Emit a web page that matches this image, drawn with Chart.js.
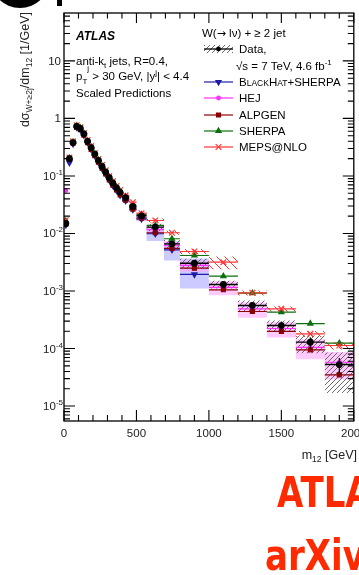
<!DOCTYPE html>
<html><head><meta charset="utf-8">
<script src="https://cdn.jsdelivr.net/npm/chart.js@4.4.1/dist/chart.umd.min.js"></script>
<style>html,body{margin:0;padding:0;background:#fff;}canvas{display:block;}</style>
</head><body>
<canvas id="c" width="359" height="575"></canvas>
<script>
// ---- data ----
const binEdges = [0,25,50,75,100,125,150,175,200,225,250,275,300,325,350,375,400,450,500,570,690,800,1000,1200,1400,1600,1800,2000];
const dataValues = [0.0149,0.20,0.38,0.73,0.67,0.54,0.40,0.31,0.24,0.186,0.146,0.117,0.093,0.075,0.062,0.052,0.042,0.0295,0.0203,0.0129,0.0066,0.00304,0.00130,0.00056,0.000251,0.000129,0.0000527];
const dataStat   = [0.03,0.02,0.02,0.02,0.02,0.02,0.02,0.02,0.02,0.02,0.02,0.02,0.03,0.03,0.03,0.03,0.03,0.04,0.05,0.06,0.08,0.10,0.12,0.15,0.18,0.22,0.30];
const dataSystUp = [0.10,0.08,0.08,0.08,0.08,0.08,0.08,0.08,0.08,0.08,0.08,0.08,0.08,0.08,0.08,0.08,0.08,0.09,0.10,0.14,0.17,0.20,0.16,0.22,0.22,0.31,0.62];
const dataSystDn = [0.10,0.08,0.08,0.08,0.08,0.08,0.08,0.08,0.08,0.08,0.08,0.08,0.08,0.08,0.08,0.08,0.08,0.09,0.10,0.14,0.16,0.19,0.15,0.20,0.20,0.36,0.68];
const bhValues   = [0.0140,0.17,0.36,0.70,0.64,0.51,0.38,0.29,0.225,0.172,0.134,0.107,0.084,0.068,0.056,0.046,0.037,0.026,0.0178,0.0099,0.0052,0.00194];
const bhUncUp    = [0.06,0.06,0.06,0.06,0.06,0.06,0.06,0.06,0.06,0.06,0.06,0.06,0.06,0.06,0.06,0.06,0.06,0.06,0.08,0.30,0.40,0.90];
const bhUncDn    = [0.06,0.06,0.06,0.06,0.06,0.06,0.06,0.06,0.06,0.06,0.06,0.06,0.06,0.06,0.06,0.06,0.06,0.06,0.08,0.25,0.35,0.43];
const hejValues  = [0.056,0.19,0.38,0.72,0.66,0.53,0.39,0.30,0.235,0.180,0.142,0.113,0.090,0.073,0.060,0.050,0.040,0.028,0.0193,0.0117,0.0062,0.00278,0.00116,0.00049,0.000223,0.000105,0.0000578];
const hejUnc     = [0.10,0.10,0.10,0.10,0.10,0.10,0.10,0.10,0.10,0.10,0.10,0.10,0.10,0.10,0.10,0.10,0.10,0.12,0.13,0.15,0.18,0.22,0.27,0.30,0.30,0.38,0.50];
const alpgenValues = [0.0145,0.195,0.37,0.70,0.64,0.51,0.38,0.29,0.225,0.173,0.136,0.108,0.085,0.069,0.057,0.047,0.038,0.0265,0.0185,0.0103,0.0055,0.00249,0.00105,0.00044,0.000198,0.0000949,0.0000349];
const sherpaValues = [0.0165,0.205,0.39,0.75,0.69,0.55,0.41,0.32,0.245,0.19,0.150,0.120,0.096,0.078,0.064,0.054,0.044,0.031,0.0214,0.0138,0.0081,0.00414,0.00181,0.00092,0.00043,0.000272,0.000124];
const mepsValues = [0.0170,0.21,0.40,0.76,0.70,0.56,0.42,0.33,0.25,0.197,0.155,0.125,0.100,0.081,0.067,0.057,0.046,0.035,0.0225,0.0168,0.0103,0.00486,0.00317,0.00093,0.00049,0.000180,0.000113];
const mepsUnc    = [0.05,0.05,0.05,0.05,0.05,0.05,0.05,0.05,0.05,0.05,0.05,0.05,0.05,0.05,0.05,0.05,0.05,0.05,0.06,0.08,0.08,0.10,0.25,0.10,0.10,0.12,0.15];
const xTickLabels = [0,500,1000,1500,2000];
const yTickPowers = [-5,-4,-3,-2,-1,0,1];

// ---- styles ----
const FONT = '"Liberation Sans", "DejaVu Sans", Arial, Helvetica, sans-serif';
const C = {bh:'#1c1ca8', hej:'#ff30ff', alp:'#8b0000', sh:'#0b700b', meps:'#ff3535', data:'#000'};

function hatch(color, dir, s, lw){
  const c=document.createElement('canvas'); c.width=s; c.height=s;
  const g=c.getContext('2d'); g.strokeStyle=color; g.lineWidth=lw; g.beginPath();
  for(let k=-1;k<=1;k++){
    if(dir>0){ g.moveTo(k*s, s); g.lineTo(k*s+s, 0); }
    else { g.moveTo(k*s, 0); g.lineTo(k*s+s, s); }
  }
  g.stroke();
  return g.createPattern(c,'repeat');
}
const dataHatch = hatch('#6a6a6a', 1, 5, 1);
const mepsHatch = hatch('#ff3535', -1, 8, 1);

// ---- dataset builders ----
function stepPts(vals, frac, sign){
  const pts=[];
  vals.forEach((v,i)=>{ if(v==null) return; const y=v*(1+sign*frac[i]); pts.push({x:binEdges[i],y},{x:binEdges[i+1],y}); });
  return pts;
}
function band(vals, up, dn, fill, order){
  return [
    {data:stepPts(vals,dn,-1), borderWidth:0, pointRadius:0, fill:false, order},
    {data:stepPts(vals,up,1), borderWidth:0, pointRadius:0, fill:'-1', backgroundColor:fill, order}
  ];
}
function segs(vals, color, order, w){
  const pts=[];
  vals.forEach((v,i)=>{ if(v==null) return; pts.push({x:binEdges[i],y:v},{x:binEdges[i+1],y:v},{x:binEdges[i+1],y:null}); });
  return {data:pts, borderColor:color, borderWidth:w||1.2, pointRadius:0, fill:false, spanGaps:false, order};
}
function marks(vals, color, style, r, order, rot){
  const pts=[];
  vals.forEach((v,i)=>{ if(v==null) return; pts.push({x:(binEdges[i]+binEdges[i+1])/2, y:v}); });
  return {data:pts, showLine:false, pointStyle:style, pointRadius:r, pointRotation:rot||0,
    pointBackgroundColor:color, pointBorderColor:color, pointBorderWidth:1.2, order};
}
function errBars(vals, frac, order){
  const pts=[];
  vals.forEach((v,i)=>{ const x=(binEdges[i]+binEdges[i+1])/2; pts.push({x,y:v*(1-frac[i])},{x,y:v*(1+frac[i])},{x,y:null}); });
  return {data:pts, borderColor:'#000', borderWidth:1.2, pointRadius:0, fill:false, spanGaps:false, order};
}

const datasets = [
  ...band(bhValues, bhUncUp, bhUncDn, 'rgba(185,185,255,0.75)', 30),
  ...band(hejValues, hejUnc, hejUnc, 'rgba(255,160,255,0.55)', 29),
  ...band(mepsValues, mepsUnc, mepsUnc, mepsHatch, 28),
  ...band(dataValues, dataSystUp, dataSystDn, dataHatch, 27),
  segs(bhValues, C.bh, 20), segs(hejValues, C.hej, 19), segs(alpgenValues, C.alp, 18),
  segs(sherpaValues, C.sh, 17), segs(mepsValues, C.meps, 16), segs(dataValues, '#000', 15, 1.4),
  marks(bhValues, C.bh, 'triangle', 3, 12, 180),
  marks(hejValues, C.hej, 'circle', 1.8, 11),
  marks(sherpaValues, C.sh, 'triangle', 3, 10),
  marks(mepsValues, C.meps, 'crossRot', 4, 9),
  marks(alpgenValues, C.alp, 'rect', 2.8, 8),
  errBars(dataValues, dataStat, 2),
  marks(dataValues, '#000', 'circle', 2.8, 1)
];

// ---- decorations: frame, inward ticks, labels, legend, titles ----
function rich(ctx, parts, x, y, align){
  let w=0;
  const f=p=>(p.st||'')+' '+p.s+'px '+(p.f||FONT);
  parts.forEach(p=>{ ctx.font=f(p); p.w=ctx.measureText(p.t).width; w+=p.w; });
  let cx = align==='right' ? x-w : x;
  parts.forEach(p=>{ ctx.font=f(p); ctx.fillText(p.t, cx, y+(p.dy||0)); cx+=p.w; });
  return w;
}
const deco = {
  id:'deco',
  afterDraw(chart){
    const ctx=chart.ctx, ca=chart.chartArea, xs=chart.scales.x, ys=chart.scales.y;
    ctx.save();
    ctx.fillStyle='#000'; ctx.strokeStyle='#000';
    // cropped shapes at top-left
    ctx.beginPath(); ctx.arc(20,-22,30,0,Math.PI*2); ctx.fill();
    ctx.fillRect(57,0,5,6);
    // frame
    ctx.lineWidth=1.3;
    ctx.strokeRect(ca.left, ca.top, ca.right-ca.left, ca.bottom-ca.top);
    // x ticks
    ctx.lineWidth=1.1; ctx.beginPath();
    for(let m=0;m<=2000;m+=100){
      const px=xs.getPixelForValue(m), L=(m%500===0)?11:6;
      ctx.moveTo(px,ca.bottom); ctx.lineTo(px,ca.bottom-L);
      ctx.moveTo(px,ca.top); ctx.lineTo(px,ca.top+L*0.9);
    }
    // y ticks
    for(let e=-6;e<=1;e++){
      for(let k=1;k<=9;k++){
        const v=k*Math.pow(10,e);
        if(v<ys.min||v>ys.max) continue;
        const py=ys.getPixelForValue(v), L=(k===1)?11:6;
        ctx.moveTo(ca.left,py); ctx.lineTo(ca.left+L,py);
        ctx.moveTo(ca.right,py); ctx.lineTo(ca.right-L,py);
      }
    }
    ctx.stroke();
    // x labels
    ctx.fillStyle='#222'; ctx.textAlign='center'; ctx.textBaseline='alphabetic';
    ctx.font='11.5px '+FONT;
    xTickLabels.forEach(m=>{ ctx.fillText(String(m), xs.getPixelForValue(m), ca.bottom+16); });
    // y labels
    ctx.textAlign='left';
    yTickPowers.forEach(e=>{
      const py=ys.getPixelForValue(Math.pow(10,e))+4;
      if(e===0) rich(ctx,[{t:'1',s:11.5}],61,py,'right');
      else if(e===1) rich(ctx,[{t:'10',s:11.5}],61,py,'right');
      else rich(ctx,[{t:'10',s:11.5},{t:String(e),s:8,dy:-5}],63,py,'right');
    });
    // x title
    ctx.fillStyle='#222';
    rich(ctx,[{t:'m',s:12.5},{t:'12',s:8.5,dy:3},{t:' [GeV]',s:12.5}],357,459,'right');
    // y title (rotated)
    ctx.save(); ctx.translate(29,0); ctx.rotate(-Math.PI/2);
    rich(ctx,[{t:'dσ',s:12.5},{t:'W+≥2j',s:8.5,dy:3},{t:'/dm',s:12.5},{t:'12',s:8.5,dy:3},{t:' [1/GeV]',s:12.5}],-12,0,'right');
    ctx.restore();
    // left text block
    ctx.fillStyle='#000';
    rich(ctx,[{t:'ATLAS',s:12,st:'italic bold'}],76,40);
    rich(ctx,[{t:'anti-k',s:11.5},{t:'t',s:8,dy:3},{t:' jets, R=0.4,',s:11.5}],76,65);
    rich(ctx,[{t:'p',s:11.5},{t:'T',s:8,dy:4},{t:'j',s:8,dy:-9},{t:' > 30 GeV, |y',s:11.5},{t:'j',s:8,dy:-5},{t:'| < 4.4',s:11.5}],76,80);
    rich(ctx,[{t:'Scaled Predictions',s:11.5}],76,97);
    // legend
    const lx0=204, lx1=233, lxc=218.5, tx=239;
    rich(ctx,[{t:'W(',s:11.5},{t:'→',s:11,f:'"DejaVu Sans", sans-serif'},{t:' lν) + ≥ 2 jet',s:11.5}],202,37);
    // data entry
    ctx.fillStyle=dataHatch; ctx.fillRect(lx0,45,lx1-lx0,8);
    ctx.strokeStyle='#000'; ctx.lineWidth=1.3; ctx.beginPath(); ctx.moveTo(lx0,49); ctx.lineTo(lx1,49); ctx.stroke();
    ctx.fillStyle='#000'; ctx.beginPath(); ctx.arc(lxc,49,2.4,0,Math.PI*2); ctx.fill();
    rich(ctx,[{t:'Data,',s:11.5}],tx,53);
    rich(ctx,[{t:'√s = 7 TeV, 4.6 fb',s:11.5},{t:'-1',s:8,dy:-5}],236,70);
    const entries=[
      {y:82, c:C.bh, st:'triangle', r:3, rot:180, label:[{t:'B',s:11.5},{t:'LACK',s:8.5},{t:'H',s:11.5},{t:'AT',s:8.5},{t:'+SHERPA',s:11.5}]},
      {y:98, c:C.hej, st:'circle', r:1.8, label:[{t:'HEJ',s:11.5}]},
      {y:115, c:C.alp, st:'rect', r:2.8, label:[{t:'ALPGEN',s:11.5}]},
      {y:131, c:C.sh, st:'triangle', r:3, label:[{t:'SHERPA',s:11.5}]},
      {y:147, c:C.meps, st:'crossRot', r:4, label:[{t:'MEPS@NLO',s:11.5}]}
    ];
    entries.forEach(en=>{
      ctx.strokeStyle=en.c; ctx.fillStyle=en.c; ctx.lineWidth=1.2;
      ctx.beginPath(); ctx.moveTo(lx0,en.y); ctx.lineTo(lx1,en.y); ctx.stroke();
      Chart.helpers.drawPoint(ctx,{pointStyle:en.st,radius:en.r,rotation:en.rot||0,borderWidth:1.2},lxc,en.y);
      ctx.fillStyle='#000';
      rich(ctx,en.label,tx,en.y+4);
    });
    // red stamp text
    ctx.fillStyle='#ff2a00';
    ctx.save(); ctx.scale(0.88,1);
    ctx.font='bold 43px "Liberation Sans Narrow", "DejaVu Sans Condensed", sans-serif';
    ctx.fillText('ATLAS', 277/0.88, 507);
    ctx.fillText('arXiv:1711.03296', 265/0.88, 570);
    ctx.restore();
    ctx.restore();
  }
};

new Chart(document.getElementById('c'), {
  type:'line',
  data:{datasets},
  options:{
    responsive:false, animation:false, devicePixelRatio:1,
    layout:{padding:{left:64,right:2,top:13,bottom:154}},
    scales:{
      x:{type:'linear',min:0,max:2000,display:false},
      y:{type:'logarithmic',min:5.5e-6,max:68,display:false}
    },
    plugins:{legend:{display:false},tooltip:{enabled:false}},
    elements:{line:{tension:0}}
  },
  plugins:[deco]
});
</script>
</body></html>
